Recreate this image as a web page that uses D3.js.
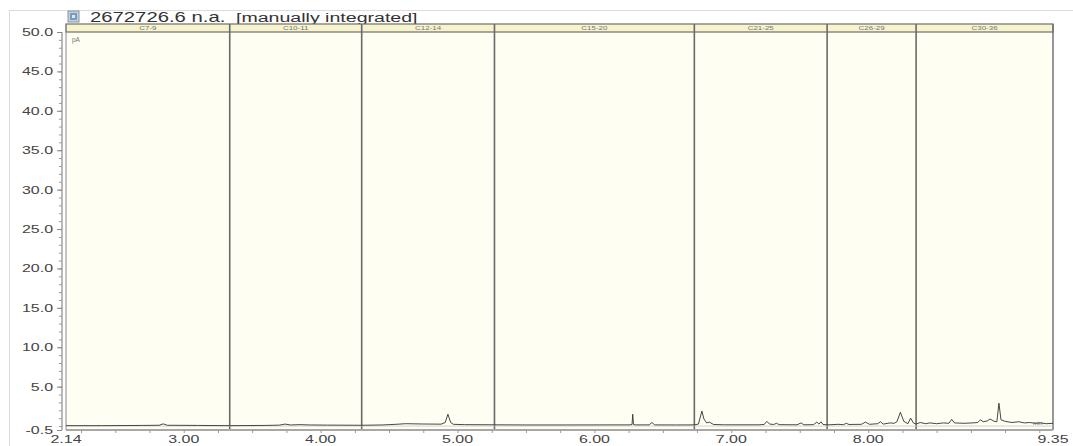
<!DOCTYPE html>
<html>
<head>
<meta charset="utf-8">
<script src="https://cdn.jsdelivr.net/npm/d3@7"></script>
<style>
  html, body { margin: 0; padding: 0; background: #fff; }
  svg text { font-family: "Liberation Sans", Arial, sans-serif; }
</style>
</head>
<body>
<svg id="chart" width="1073" height="446"></svg>
<script>
// Retention-time window and signal range (pA)
const timeRange = [2.14, 9.35];
const signalRange = [-0.5, 50];

// Carbon-range windows along the run: boundaries (min) and header labels
const windowEdges = [2.14, 3.336, 4.30, 5.27, 6.73, 7.70, 8.35, 9.35];
const windowLabels = ["C7-9", "C10-11", "C12-14", "C15-20", "C21-25", "C26-29", "C30-36"];

// Axis tick labels
const xTickValues = [2.14, 3.00, 4.00, 5.00, 6.00, 7.00, 8.00, 9.35];
const yTickValues = [-0.5, 5, 10, 15, 20, 25, 30, 35, 40, 45, 50];

// FID trace: retention time (min) and signal (pA)
const traceTime = [
  2.14, 2.40, 2.70, 2.82, 2.85, 2.88, 3.10, 3.336, 3.60, 3.70, 3.74, 3.78, 3.85, 3.92, 4.05, 4.30,
  4.45, 4.55, 4.62, 4.75, 4.88, 4.91, 4.93, 4.95, 4.97, 5.05, 5.27, 5.50, 5.80, 6.10, 6.26,
  6.275, 6.28, 6.285, 6.30, 6.40, 6.42, 6.44, 6.60, 6.73, 6.76, 6.785, 6.80, 6.82, 6.84, 6.87,
  6.95, 7.20, 7.24, 7.26, 7.28, 7.31, 7.33, 7.35, 7.48, 7.51, 7.53, 7.60, 7.625, 7.64, 7.655,
  7.67, 7.70, 7.78, 7.82, 7.84, 7.86, 7.95, 7.98, 8.01, 8.07, 8.09, 8.11, 8.16, 8.19, 8.21,
  8.235, 8.26, 8.29, 8.31, 8.33, 8.35, 8.38, 8.42, 8.45, 8.50, 8.55, 8.59, 8.61, 8.63, 8.70,
  8.76, 8.80, 8.82, 8.84, 8.87, 8.89, 8.92, 8.94, 8.955, 8.97, 9.00, 9.05, 9.10, 9.14, 9.18,
  9.22, 9.26, 9.30, 9.35
];
const traceSignal = [
  0.05, 0.05, 0.08, 0.10, 0.28, 0.10, 0.08, 0.05, 0.08, 0.12, 0.25, 0.14, 0.18, 0.14, 0.12, 0.10,
  0.14, 0.22, 0.30, 0.26, 0.24, 0.45, 1.50, 0.45, 0.22, 0.18, 0.16, 0.14, 0.14, 0.15, 0.15,
  0.20, 1.50, 0.20, 0.15, 0.15, 0.45, 0.15, 0.14, 0.15, 0.25, 1.90, 0.90, 0.40, 0.50, 0.20,
  0.16, 0.16, 0.20, 0.60, 0.25, 0.20, 0.35, 0.18, 0.16, 0.40, 0.16, 0.18, 0.50, 0.25, 0.55,
  0.20, 0.15, 0.22, 0.18, 0.35, 0.20, 0.22, 0.50, 0.22, 0.30, 0.55, 0.25, 0.40, 0.35, 0.55,
  1.75, 0.60, 0.30, 1.00, 0.40, 0.25, 0.45, 0.30, 0.40, 0.30, 0.40, 0.35, 0.85, 0.40, 0.35,
  0.40, 0.45, 0.80, 0.55, 0.65, 0.90, 0.60, 0.55, 2.90, 0.80, 0.60, 0.45, 0.55, 0.40, 0.45,
  0.35, 0.40, 0.30, 0.35
];

const svg = d3.select("#chart");
const W = 1073, H = 446;
const plot = { left: 66, right: 1053, top: 32, bottom: 430, headerTop: 24 };
const stretch = 1.45; // wide lettering used throughout

const x = d3.scaleLinear().domain(timeRange).range([plot.left, plot.right]);
const y = d3.scaleLinear().domain(signalRange).range([plot.bottom, plot.top]);

// outer frame
svg.append("rect")
  .attr("x", 9.5).attr("y", 10.5).attr("width", W + 20).attr("height", H + 20)
  .attr("fill", "#fff").attr("stroke", "#dcdcdc");

// helper: horizontally stretched text
function wideText(g, tx, ty, str, anchor, size, color, weight) {
  return g.append("text")
    .attr("transform", `translate(${tx},${ty}) scale(${stretch},1)`)
    .attr("text-anchor", anchor)
    .attr("font-size", size)
    .attr("font-weight", weight || "normal")
    .attr("fill", color)
    .text(str);
}

// title with sample icon
const icon = svg.append("g").attr("transform", "translate(68,11)");
icon.append("rect").attr("width", 11).attr("height", 11).attr("fill", "#c8d0d8").attr("stroke", "#8a949e");
icon.append("rect").attr("x", 2).attr("y", 2).attr("width", 7).attr("height", 7).attr("fill", "#6f9fc8");
icon.append("rect").attr("x", 4).attr("y", 4).attr("width", 3).attr("height", 3).attr("fill", "#dfe8f0");
wideText(svg, 90, 21.5, "2672726.6 n.a.", "start", 14, "#333");
wideText(svg, 236, 21.5, "[manually integrated]", "start", 13.5, "#333");

// plot background
svg.append("rect")
  .attr("x", plot.left).attr("y", plot.top)
  .attr("width", plot.right - plot.left).attr("height", plot.bottom - plot.top)
  .attr("fill", "#fefef3");

// header band with window labels
svg.append("rect")
  .attr("x", plot.left).attr("y", plot.headerTop)
  .attr("width", plot.right - plot.left).attr("height", plot.top - plot.headerTop)
  .attr("fill", "#f6f3cd").attr("stroke", "#6e6e6e").attr("stroke-width", 1.2);

windowLabels.forEach((lab, i) => {
  const cx = (x(windowEdges[i]) + x(windowEdges[i + 1])) / 2;
  wideText(svg, cx, 30, lab, "middle", 5.5, "#777");
});

// window separators
svg.append("g").selectAll("line")
  .data(windowEdges.slice(1, -1))
  .join("line")
  .attr("x1", d => x(d)).attr("x2", d => x(d))
  .attr("y1", plot.headerTop).attr("y2", plot.bottom)
  .attr("stroke", "#6a6a6a").attr("stroke-width", 1.6);

// plot borders
svg.append("line")
  .attr("x1", plot.right).attr("x2", plot.right)
  .attr("y1", plot.headerTop).attr("y2", plot.bottom)
  .attr("stroke", "#6a6a6a").attr("stroke-width", 1.4);
svg.append("line")
  .attr("x1", plot.left).attr("x2", plot.left)
  .attr("y1", plot.headerTop).attr("y2", plot.bottom)
  .attr("stroke", "#8a8a8a").attr("stroke-width", 1);

// units labels
svg.append("text").attr("x", 72).attr("y", 42).attr("font-size", 6.5).attr("fill", "#777").text("pA");
svg.append("text").attr("x", 1033).attr("y", 425).attr("font-size", 6).attr("fill", "#777").text("min");

// y axis: minor and major ticks
const yMinor = d3.range(0, 51, 1);
const yAxisG = svg.append("g").attr("transform", `translate(${plot.left - 4},0)`);
yAxisG.call(d3.axisLeft(y).tickValues(yMinor).tickSize(3).tickFormat(""));
yAxisG.selectAll(".tick line").attr("stroke", "#9a9a9a");
yAxisG.select(".domain").attr("stroke", "#b8b8b8").attr("stroke-width", 2).attr("d", `M0,${y(-0.5)}V${y(50)}`);
const yMajor = svg.append("g").attr("transform", `translate(${plot.left - 4},0)`);
yMajor.call(d3.axisLeft(y).tickValues(yTickValues).tickSize(5).tickFormat(""));
yMajor.select(".domain").remove();
yMajor.selectAll(".tick line").attr("stroke", "#888");
yTickValues.forEach(v => {
  wideText(svg, 53, y(v) + 4, v.toFixed(1), "end", 11, "#444");
});

// x axis
const xAxisG = svg.append("g").attr("transform", `translate(0,${plot.bottom})`);
xAxisG.call(d3.axisBottom(x).tickValues(d3.range(2.25, 9.35, 0.25)).tickSize(3).tickFormat(""));
xAxisG.select(".domain").attr("stroke", "#a8a8a8").attr("stroke-width", 2).attr("d", `M${plot.left},0H${plot.right}`);
xAxisG.selectAll(".tick line").attr("stroke", "#999");
xTickValues.forEach(v => {
  wideText(svg, x(v), 443, v.toFixed(2), "middle", 11, "#444");
});

// baseline under the trace
svg.append("line")
  .attr("x1", plot.left).attr("x2", plot.right)
  .attr("y1", y(0)).attr("y2", y(0))
  .attr("stroke", "#c8c8c0").attr("stroke-width", 0.8);

// chromatogram trace
const trace = traceTime.map((t, i) => [t, traceSignal[i]]);
svg.append("path")
  .datum(trace)
  .attr("fill", "none")
  .attr("stroke", "#333")
  .attr("stroke-width", 0.9)
  .attr("d", d3.line().x(d => x(d[0])).y(d => y(d[1])));
</script>
</body>
</html>
